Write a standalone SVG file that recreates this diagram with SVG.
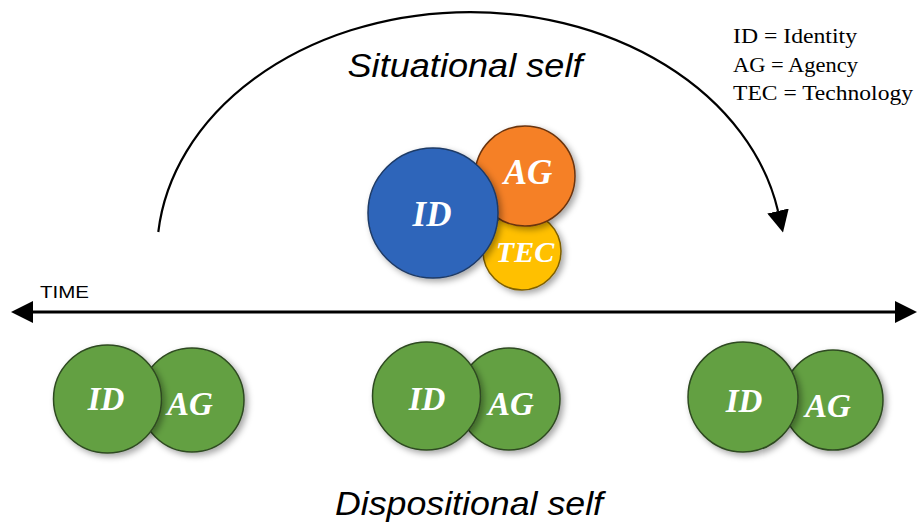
<svg xmlns="http://www.w3.org/2000/svg" width="917" height="526" viewBox="0 0 917 526">
<style>
  .lbl { font-family: "Liberation Serif", "DejaVu Serif", serif; font-weight: bold; font-style: italic; fill: #ffffff; text-anchor: middle; }
  .title { font-family: "Liberation Sans", "DejaVu Sans", sans-serif; font-style: italic; fill: #000; text-anchor: middle; font-size: 34px; }
  .legend { font-family: "Liberation Serif", "DejaVu Serif", serif; font-size: 22px; fill: #000; }
  .green { fill: #64A043; stroke: #2E4A20; stroke-width: 1.5; filter: url(#sh); }
  .conn { fill: none; stroke: #000; }
</style>
<defs>
  <filter id="sh" x="-30%" y="-30%" width="160%" height="160%">
    <feDropShadow dx="3" dy="3" stdDeviation="3" flood-color="#000" flood-opacity="0.35"/>
  </filter>
  <marker id="ah" markerUnits="userSpaceOnUse" markerWidth="22" markerHeight="22" viewBox="0 0 22 22" refX="0" refY="11" orient="auto-start-reverse">
    <path d="M0,0 L22,11 L0,22 z" fill="#000"/>
  </marker>
</defs>

<g id="connectors">
  <path class="conn" stroke-width="2.2" d="M158.3,232 A313,242 0 0 1 778,211" marker-end="url(#ah)"/>
  <path class="conn" stroke-width="3" d="M33,312 L895,312" marker-start="url(#ah)" marker-end="url(#ah)"/>
</g>

<g id="situational">
  <g id="sit-tec">
    <circle cx="522" cy="251" r="39" fill="#FFC000" stroke="#7F6000" stroke-width="1.5" filter="url(#sh)"/>
    <text class="lbl" x="525" y="262" font-size="30">TEC</text>
  </g>
  <g id="sit-ag">
    <circle cx="525" cy="176" r="50" fill="#F58025" stroke="#6B3410" stroke-width="1.5" filter="url(#sh)"/>
    <text class="lbl" x="528" y="184" font-size="35">AG</text>
  </g>
  <g id="sit-id">
    <circle cx="433" cy="213" r="65" fill="#2E65BA" stroke="#1E3A66" stroke-width="1.5" filter="url(#sh)"/>
    <text class="lbl" x="432" y="226" font-size="35">ID</text>
  </g>
</g>

<g id="pair1">
  <g id="p1-ag"><circle class="green" cx="192" cy="400" r="52"/><text class="lbl" x="190" y="415" font-size="33">AG</text></g>
  <g id="p1-id"><circle class="green" cx="107.5" cy="399" r="54"/><text class="lbl" x="106" y="410" font-size="33">ID</text></g>
</g>
<g id="pair2">
  <g id="p2-ag"><circle class="green" cx="509" cy="399" r="51"/><text class="lbl" x="511" y="415" font-size="33">AG</text></g>
  <g id="p2-id"><circle class="green" cx="426.5" cy="396" r="54"/><text class="lbl" x="427" y="410" font-size="33">ID</text></g>
</g>
<g id="pair3">
  <g id="p3-ag"><circle class="green" cx="833" cy="400" r="50"/><text class="lbl" x="828" y="417" font-size="33">AG</text></g>
  <g id="p3-id"><circle class="green" cx="743" cy="397" r="55"/><text class="lbl" x="744" y="412" font-size="33">ID</text></g>
</g>

<g id="texts">
  <text class="title" x="465" y="77" textLength="235" lengthAdjust="spacingAndGlyphs">Situational self</text>
  <text class="title" x="469" y="515" textLength="268" lengthAdjust="spacingAndGlyphs">Dispositional self</text>
  <text x="40" y="298" font-family="Liberation Sans, DejaVu Sans, sans-serif" font-size="16.5" textLength="49" lengthAdjust="spacingAndGlyphs">TIME</text>
  <text class="legend" x="733" y="43" textLength="124" lengthAdjust="spacingAndGlyphs">ID = Identity</text>
  <text class="legend" x="733" y="72" textLength="125" lengthAdjust="spacingAndGlyphs">AG = Agency</text>
  <text class="legend" x="733" y="100" textLength="180" lengthAdjust="spacingAndGlyphs">TEC = Technology</text>
</g>
</svg>
